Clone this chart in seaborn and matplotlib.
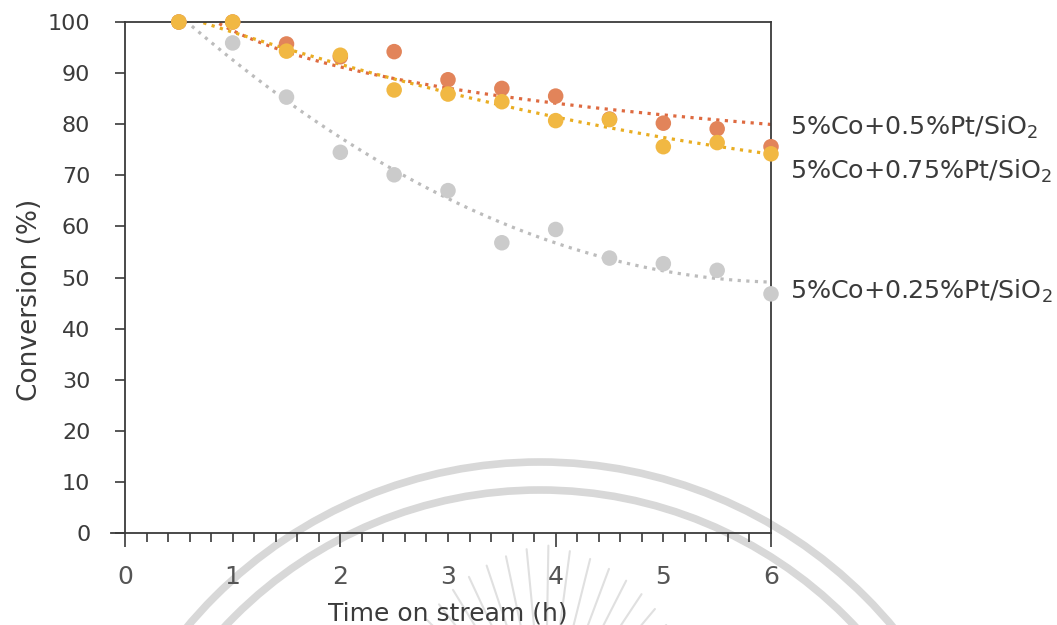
import numpy as np
import pandas as pd
import matplotlib
matplotlib.use("Agg")
import matplotlib.pyplot as plt
from matplotlib.patches import Arc
import seaborn as sns

# Conversion (%) vs time on stream (h) for three Pt loadings on 5%Co/SiO2
time_h = [0.5, 1.0, 1.5, 2.0, 2.5, 3.0, 3.5, 4.0, 4.5, 5.0, 5.5, 6.0]
conv_pt050 = [100, 100, 95.7, 93.2, 94.2, 88.7, 87.0, 85.5, 81.0, 80.2, 79.1, 75.6]
conv_pt075 = [100, 100, 94.3, 93.5, 86.7, 85.9, 84.4, 80.7, 80.9, 75.6, 76.4, 74.2]
conv_pt025 = [100, 95.9, 85.3, 74.5, 70.1, 67.0, 56.8, 59.4, 53.8, 52.7, 51.4, 46.8]

series_labels = [r"5%Co+0.25%Pt/SiO$_2$", r"5%Co+0.5%Pt/SiO$_2$", r"5%Co+0.75%Pt/SiO$_2$"]
# trendline type per series: logarithmic or 2nd-order polynomial
trend_kind = ["poly", "log", "poly"]
x_ticks = [0, 1, 2, 3, 4, 5, 6]
y_ticks = [0, 10, 20, 30, 40, 50, 60, 70, 80, 90, 100]

sns.set_style("white")
plt.rcParams["font.family"] = ["DejaVu Sans"]
plt.rcParams["mathtext.fontset"] = "dejavusans"

TEXT = "#3b3b3b"
AXIS = "#3a3a3a"

df = pd.DataFrame({
    "time": time_h * 3,
    "conv": conv_pt025 + conv_pt050 + conv_pt075,
    "sample": [series_labels[0]] * 12 + [series_labels[1]] * 12 + [series_labels[2]] * 12,
})

dot_colors = {series_labels[0]: "#cbcbcb", series_labels[1]: "#e2845a", series_labels[2]: "#f1b843"}
fit_colors = {series_labels[0]: "#bcbcbc", series_labels[1]: "#de6a40", series_labels[2]: "#e9ad22"}
label_y = {series_labels[0]: 45.9, series_labels[1]: 77.9, series_labels[2]: 69.3}

W, H = 1057, 625
fig = plt.figure(figsize=(W / 100, H / 100), dpi=100)
fig.patch.set_facecolor("white")

# faint emblem behind the plot
bg = fig.add_axes([0, 0, 1, 1], zorder=0)
bg.set_xlim(0, W)
bg.set_ylim(H, 0)
bg.axis("off")
for r in (460, 432):
    bg.add_patch(Arc((540, 922), 2 * r, 2 * r, theta1=180, theta2=360,
                     color="#d8d8d8", lw=5.5))
cx, cy = 545, 740
for ang in np.arange(24, 157, 6.5):
    a = np.deg2rad(ang)
    r0, r1 = 60, 195 - abs(ang - 90) * 0.6
    bg.plot([cx + r0 * np.cos(a), cx + r1 * np.cos(a)],
            [cy - r0 * np.sin(a), cy - r1 * np.sin(a)],
            color="#e0e0e0", lw=1.5, solid_capstyle="round")

ax = fig.add_axes([125 / W, 1 - 533 / H, (771 - 125) / W, (533 - 22) / H], zorder=1)
ax.set_facecolor("none")

xs = np.linspace(0.5, 6, 200)
for name, kind in zip(series_labels, trend_kind):
    sub = df[df["sample"] == name]
    if kind == "log":
        coef = np.polyfit(np.log(sub["time"]), sub["conv"], 1)
        ys = np.polyval(coef, np.log(xs))
    else:
        coef = np.polyfit(sub["time"], sub["conv"], 2)
        ys = np.polyval(coef, xs)
    fit = pd.DataFrame({"time": xs, "conv": ys})
    sns.lineplot(data=fit, x="time", y="conv", ax=ax, color=fit_colors[name],
                 lw=2.3, linestyle=(0, (1, 1.7)), dash_capstyle="butt", zorder=2)

for name in series_labels:
    sub = df[df["sample"] == name]
    sns.scatterplot(data=sub, x="time", y="conv", ax=ax, color=dot_colors[name],
                    s=125, edgecolor="none", zorder=3, clip_on=False, legend=False)
    ax.text(6.18, label_y[name], name, fontsize=18.3, color=TEXT,
            va="baseline", ha="left", clip_on=False)

ax.set_xlim(0, 6)
ax.set_ylim(0, 100)
ax.set_xticks(x_ticks)
ax.set_xticks(np.arange(0, 6.01, 0.2), minor=True)
ax.set_yticks(y_ticks)

for s in ax.spines.values():
    s.set_color(AXIS)
    s.set_linewidth(1.3)
ax.spines["bottom"].set_bounds(-0.13, 6)

ax.tick_params(axis="y", which="major", direction="out", length=7, width=1.2,
               color=AXIS, labelsize=16, labelcolor=TEXT, pad=18, left=True)
ax.tick_params(axis="x", which="major", direction="out", length=10, width=1.2,
               color=AXIS, labelsize=18, labelcolor="#555555", pad=13, bottom=True)
ax.tick_params(axis="x", which="minor", direction="out", length=6.5, width=1.2,
               color=AXIS, bottom=True)
for t, v in zip(ax.xaxis.get_major_ticks(), x_ticks):
    if v % 2 == 1:
        t.tick1line.set_markersize(6.5)

ax.set_xlabel("Time on stream (h)", fontsize=18, color=TEXT)
ax.set_ylabel("Conversion (%)", fontsize=19, color=TEXT)
ax.xaxis.set_label_coords(0.5, -0.134)
ax.yaxis.set_label_coords(-0.127, 0.456)

fig.savefig("out.png", dpi=100, facecolor="white")
